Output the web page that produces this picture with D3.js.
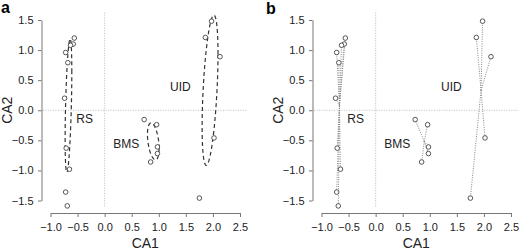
<!DOCTYPE html>
<html><head><meta charset="utf-8">
<script src="https://cdn.jsdelivr.net/npm/d3@7"></script>
<style>
html,body{margin:0;padding:0;background:#fff;}
svg text{font-family:"Liberation Sans",Arial,Helvetica,sans-serif;}
</style></head>
<body>
<svg id="chart" width="520" height="249"></svg>
<script>
// ---- data ----
const groups = ["RS", "BMS", "UID"];
const rsCA1  = [-0.56, -0.58, -0.63, -0.72, -0.68, -0.74, -0.71, -0.65, -0.72, -0.69];
const rsCA2  = [ 1.20,  1.10,  1.08,  0.96,  0.79,  0.20, -0.63, -0.98, -1.36, -1.59];
const bmsCA1 = [0.73, 0.96, 0.975, 0.975, 0.85];
const bmsCA2 = [-0.155, -0.24, -0.61, -0.72, -0.86];
const uidCA1 = [1.975, 1.86, 2.13, 2.02, 1.75];
const uidCA2 = [1.48, 1.21, 0.89, -0.46, -1.46];
const labelCA1 = [-0.37, 0.40, 1.40];
const labelCA2 = [-0.15, -0.555, 0.39];
const xTicks = [-1.0, -0.5, 0.0, 0.5, 1.0, 1.5, 2.0, 2.5];
const yTicks = [-1.5, -1.0, -0.5, 0.0, 0.5, 1.0, 1.5];
const panelNames = ["a", "b"];

const groupData = [
  {name: groups[0], x: rsCA1,  y: rsCA2},
  {name: groups[1], x: bmsCA1, y: bmsCA2},
  {name: groups[2], x: uidCA1, y: uidCA2}
];

const svg = d3.select("#chart");
const fmt = v => d3.format(".1f")(v).replace("-", "\u2212");

function drawPanel(g, kind) {
  const x = d3.scaleLinear().domain([-1, 2.5]).range([50.5, 240]);
  const y = d3.scaleLinear().domain([-1.5, 1.5]).range([200.5, 20]);
  const xL = x(-1.14), xR = x(2.64), yT = y(1.62), yB = y(-1.62);

  // reference lines at 0
  g.append("line").attr("x1", xL).attr("x2", xR).attr("y1", y(0)).attr("y2", y(0))
    .attr("stroke", "#aaa").attr("stroke-width", 0.8).attr("stroke-dasharray", "1,1.5");
  g.append("line").attr("x1", x(0)).attr("x2", x(0)).attr("y1", yT).attr("y2", yB)
    .attr("stroke", "#aaa").attr("stroke-width", 0.8).attr("stroke-dasharray", "1,1.5");

  // axes
  const xa = g.append("g").attr("transform", "translate(0,213)")
    .call(d3.axisBottom(x).tickValues(xTicks).tickFormat(fmt).tickSize(4).tickSizeOuter(0).tickPadding(6));
  const ya = g.append("g").attr("transform", "translate(41.5,0)")
    .call(d3.axisLeft(y).tickValues(yTicks).tickFormat(fmt).tickSize(3.5).tickSizeOuter(0).tickPadding(4.5));
  [xa, ya].forEach(a => {
    a.select(".domain").attr("stroke", "#777");
    a.selectAll(".tick line").attr("stroke", "#777");
    a.selectAll(".tick text").attr("fill", "#222").style("font-size", "11px");
  });

  g.append("text").attr("x", (xL + xR) / 2).attr("y", 247.5).attr("text-anchor", "middle")
    .style("font-size", "14px").attr("fill", "#222").text("CA1");
  g.append("text").attr("transform", `translate(12,${(yT + yB) / 2}) rotate(-90)`)
    .attr("text-anchor", "middle").style("font-size", "14px").attr("fill", "#222").text("CA2");

  groupData.forEach((gd, i) => {
    const n = gd.x.length;
    const mx = d3.mean(gd.x), my = d3.mean(gd.y);
    if (kind === "a") {
      // standard-deviation ellipse from the group's covariance
      let sxx = 0, syy = 0, sxy = 0;
      for (let k = 0; k < n; k++) {
        sxx += (gd.x[k] - mx) ** 2; syy += (gd.y[k] - my) ** 2; sxy += (gd.x[k] - mx) * (gd.y[k] - my);
      }
      sxx /= (n - 1); syy /= (n - 1); sxy /= (n - 1);
      const a = Math.sqrt(sxx), b = sxy / a, c = Math.sqrt(Math.max(syy - b * b, 0));
      const pts = d3.range(0, 101).map(t => {
        const th = t / 100 * 2 * Math.PI;
        return [x(mx + a * Math.cos(th)), y(my + b * Math.cos(th) + c * Math.sin(th))];
      });
      g.append("path").attr("d", d3.line()(pts)).attr("fill", "none")
        .attr("stroke", "#333").attr("stroke-width", 1.2).attr("stroke-dasharray", "4,3");
    } else {
      g.selectAll(null).data(d3.range(n)).enter().append("line")
        .attr("x1", x(mx)).attr("y1", y(my))
        .attr("x2", k => x(gd.x[k])).attr("y2", k => y(gd.y[k]))
        .attr("stroke", "#888").attr("stroke-width", 1).attr("stroke-dasharray", "1,1.3");
    }
    g.selectAll(null).data(d3.range(n)).enter().append("circle")
      .attr("cx", k => x(gd.x[k])).attr("cy", k => y(gd.y[k])).attr("r", 2.3)
      .attr("fill", "#fff").attr("stroke", "#444").attr("stroke-width", 0.9);
    g.append("text").attr("x", x(labelCA1[i])).attr("y", y(labelCA2[i])).attr("dy", "0.35em")
      .attr("text-anchor", "middle").style("font-size", "12px").attr("fill", "#222").text(gd.name);
  });
}

const ga = svg.append("g");
drawPanel(ga, "a");
const gb = svg.append("g").attr("transform", "translate(271,0)");
drawPanel(gb, "b");

svg.append("text").attr("x", 1).attr("y", 13).style("font-size", "16px").style("font-weight", "bold")
  .attr("fill", "#000").text(panelNames[0]);
svg.append("text").attr("x", 266).attr("y", 14).style("font-size", "16px").style("font-weight", "bold")
  .attr("fill", "#000").text(panelNames[1]);
</script>
</body></html>
